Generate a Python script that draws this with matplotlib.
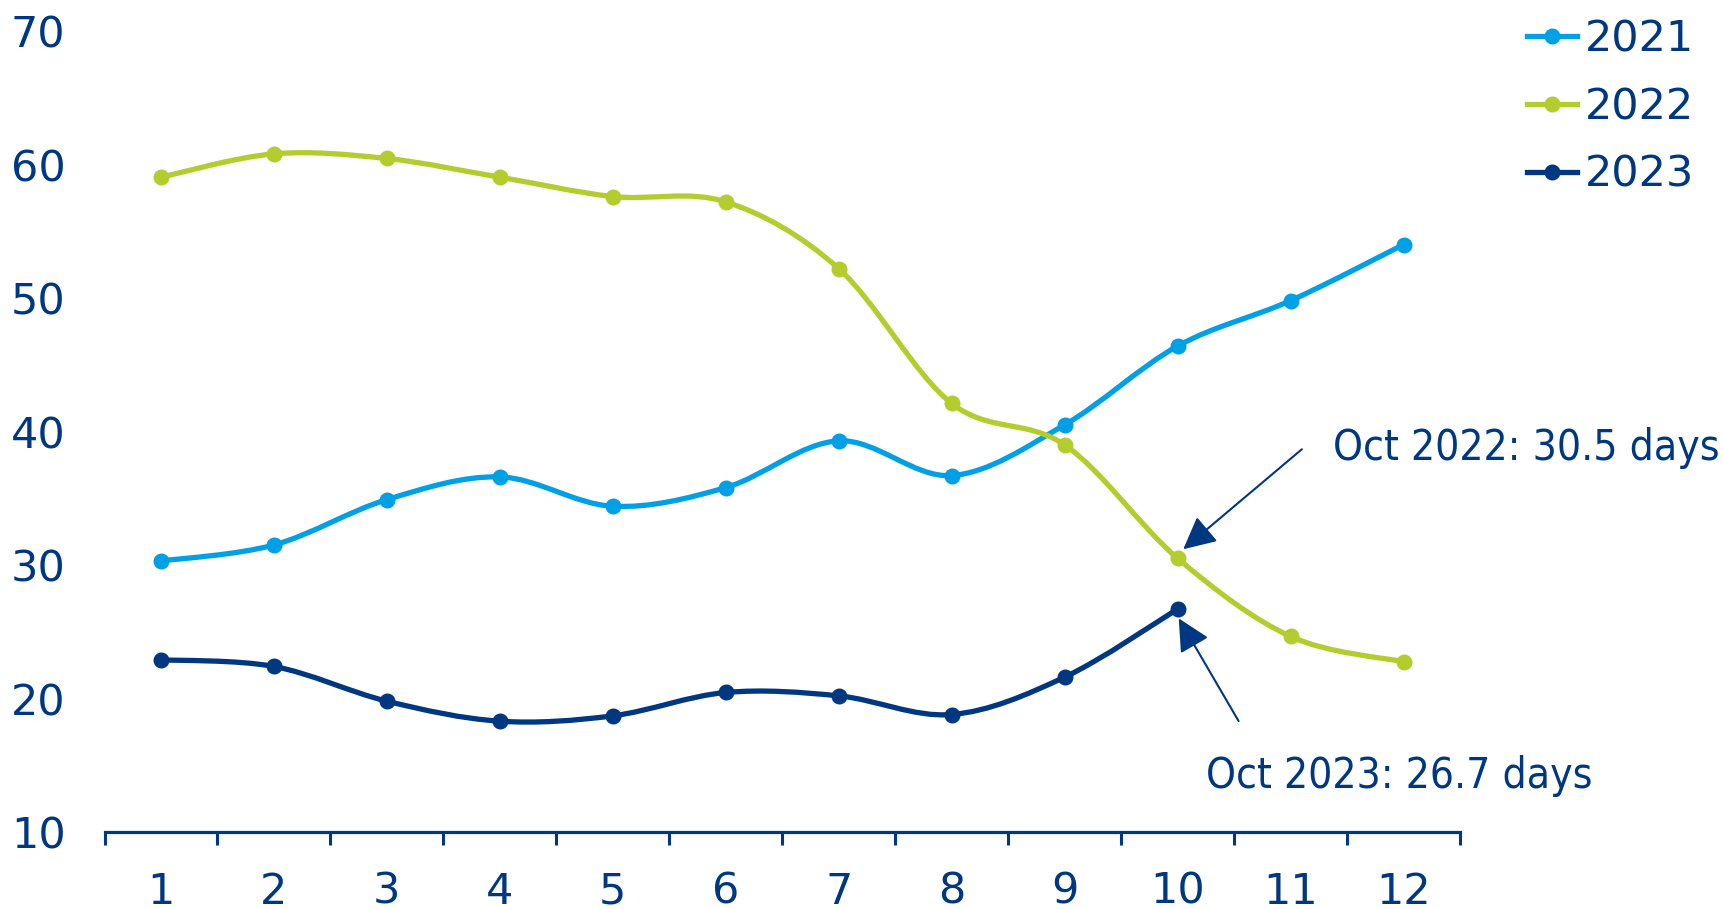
import numpy as np
import matplotlib
matplotlib.use('Agg')
import matplotlib.pyplot as plt
from matplotlib.lines import Line2D
from matplotlib.path import Path
from matplotlib.patches import PathPatch
from matplotlib import font_manager

months = list(range(1, 13))
tick_labels = [str(m) for m in months]
v2021 = [30.3, 31.5, 34.9, 36.6, 34.4, 35.8, 39.3, 36.7, 40.5, 46.4, 49.8, 54.0]
v2022 = [59.05, 60.8, 60.45, 59.05, 57.6, 57.2, 52.2, 42.1, 39.0, 30.5, 24.65, 22.75]
v2023 = [22.9, 22.4, 19.8, 18.3, 18.7, 20.45, 20.2, 18.8, 21.6, 26.7]
series_names = ['2021', '2022', '2023']
series_values = [v2021, v2022, v2023]
colors = ['#00A0E6', '#B5CC2F', '#003781']
navy = '#003781'

W, H = 1723, 909
fig = plt.figure(figsize=(W / 100, H / 100), dpi=100)
ax = fig.add_axes([104.5 / W, 1 - 832 / H, (1460 - 104.5) / W, (832 - 31) / H])

FS = 31
LW = 3.8
MS = 10.5

# condensed face for annotations if available
cond_path = font_manager.findfont(font_manager.FontProperties(family='DejaVu Sans', stretch='condensed'))
if 'Condensed' in cond_path:
    ann_font = font_manager.FontProperties(fname=cond_path, size=30.5)
else:
    ann_font = font_manager.FontProperties(family='DejaVu Sans', size=28)


def smooth_path(xs, ys):
    pts = np.column_stack([xs, ys]).astype(float)
    n = len(pts)
    verts = [pts[0]]
    codes = [Path.MOVETO]
    for i in range(n - 1):
        p0 = pts[i - 1] if i > 0 else pts[i]
        p1 = pts[i]
        p2 = pts[i + 1]
        p3 = pts[i + 2] if i + 2 < n else pts[i + 1]
        c1 = p1 + (p2 - p0) / 6.0
        c2 = p2 - (p3 - p1) / 6.0
        verts += [c1, c2, p2]
        codes += [Path.CURVE4] * 3
    return Path(verts, codes)


handles = []
for name, vals, col in zip(series_names, series_values, colors):
    xs = months[:len(vals)]
    patch = PathPatch(smooth_path(xs, vals), fill=False, edgecolor=col,
                      lw=LW, capstyle='round', joinstyle='round', zorder=3)
    ax.add_patch(patch)
    ax.plot(xs, vals, linestyle='none', marker='o', ms=MS, color=col, zorder=4)
    handles.append(Line2D([], [], color=col, lw=LW, marker='o', ms=MS))

ax.set_xlim(0.5, 12.5)
ax.set_ylim(10, 70)
ax.set_yticks([10, 20, 30, 40, 50, 60, 70])
ax.set_xticks(months)
ax.set_xticklabels(tick_labels)
ax.set_xticks(np.arange(0.5, 13, 1.0), minor=True)

for s in ['top', 'right', 'left']:
    ax.spines[s].set_visible(False)
ax.spines['bottom'].set_color(navy)
ax.spines['bottom'].set_linewidth(2.3)

ax.tick_params(axis='x', which='major', length=0, pad=28, labelsize=FS, labelcolor=navy)
ax.tick_params(axis='x', which='minor', length=9.5, width=2.2, color=navy, direction='out')
ax.tick_params(axis='y', which='both', length=0, pad=28, labelsize=FS, labelcolor=navy)

arrow_style = dict(arrowstyle='-|>,head_length=1.0,head_width=0.5', mutation_scale=20,
                   color=navy, lw=1.5, shrinkA=0, shrinkB=0)
ax.annotate('', xy=(10.05, 31.18), xytext=(11.10, 38.67), arrowprops=arrow_style, zorder=5)
ax.annotate('', xy=(10.01, 26.0), xytext=(10.54, 18.31), arrowprops=arrow_style, zorder=5)
ax.text(11.375, 37.87, 'Oct 2022: 30.5 days', fontproperties=ann_font, color=navy,
        ha='left', va='baseline', clip_on=False)
ax.text(10.25, 13.27, 'Oct 2023: 26.7 days', fontproperties=ann_font, color=navy,
        ha='left', va='baseline', clip_on=False)

leg = fig.legend(handles, series_names, loc='upper left',
                 bbox_to_anchor=(1527 / W, 0.98), bbox_transform=fig.transFigure,
                 frameon=False, fontsize=FS, handlelength=1.17, handletextpad=0.18,
                 borderpad=0, borderaxespad=0, labelspacing=0.6)
for t in leg.get_texts():
    t.set_color(navy)

fig.savefig('out.png', dpi=100)
